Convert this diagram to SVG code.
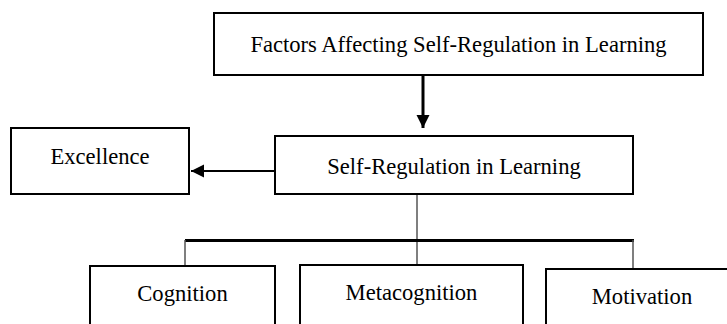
<svg xmlns="http://www.w3.org/2000/svg" width="727" height="324" viewBox="0 0 727 324">
<style>
.box{fill:#fff;stroke:#000;stroke-width:2}
.lbl{font-family:'Liberation Serif',Tinos,'Times New Roman',Times,'Nimbus Roman','DejaVu Serif',serif;font-size:22.6px;fill:#000;text-anchor:middle}
.arr{stroke:#000;fill:none}
.thin{stroke:#555;stroke-width:1.5;fill:none}
</style>
<defs>
<marker id="ah" markerUnits="userSpaceOnUse" markerWidth="14" markerHeight="14" viewBox="0 0 14 14" refX="13" refY="7" orient="auto">
<path d="M0,0.5 L13,7 L0,13.5 Z" fill="#000"/>
</marker>
</defs>
<rect width="727" height="324" fill="#fff"/>
<g id="connectors">
<line class="arr" x1="423" y1="75" x2="423" y2="128" stroke-width="3" marker-end="url(#ah)"/>
<line class="arr" x1="275" y1="171" x2="191" y2="171" stroke-width="2" marker-end="url(#ah)"/>
<line class="thin" x1="417" y1="194" x2="417" y2="265"/>
<line class="arr" x1="185" y1="240.5" x2="634" y2="240.5" stroke-width="3"/>
<line class="thin" x1="185" y1="240" x2="185" y2="266"/>
<line class="thin" x1="633" y1="240" x2="633" y2="269"/>
</g>
<g id="factors">
<rect class="box" x="214" y="13" width="489" height="62"/>
<text class="lbl" x="458.5" y="52">Factors Affecting Self-Regulation in Learning</text>
</g>
<g id="selfreg">
<rect class="box" x="275" y="136" width="358" height="58"/>
<text class="lbl" x="454" y="174">Self-Regulation in Learning</text>
</g>
<g id="excellence">
<rect class="box" x="11" y="128" width="178" height="66"/>
<text class="lbl" x="100" y="164">Excellence</text>
</g>
<g id="cognition">
<rect class="box" x="90" y="266" width="185" height="70"/>
<text class="lbl" x="182.5" y="301">Cognition</text>
</g>
<g id="metacognition">
<rect class="box" x="300" y="265" width="223" height="70"/>
<text class="lbl" x="411.5" y="300">Metacognition</text>
</g>
<g id="motivation">
<rect class="box" x="546" y="269" width="200" height="70"/>
<text class="lbl" x="642" y="304">Motivation</text>
</g>
</svg>
